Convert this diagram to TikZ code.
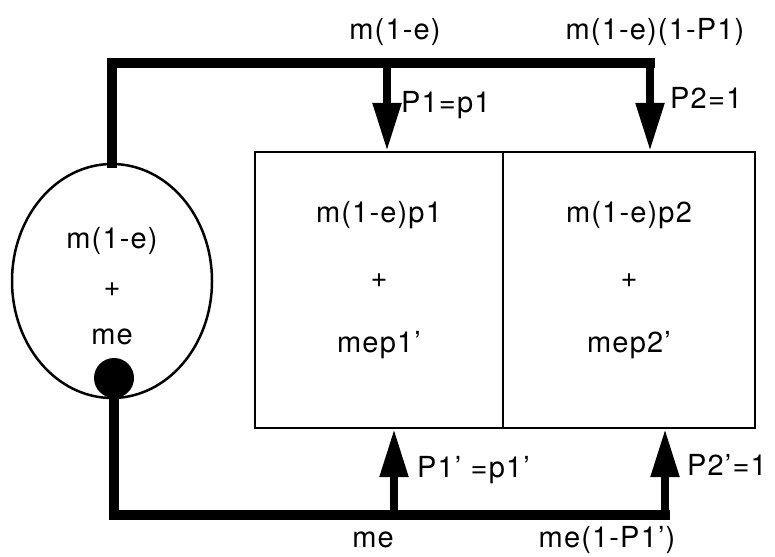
\documentclass[tikz,border=0pt]{standalone}
\usepackage{fontspec}
\setmainfont{TeX Gyre Heros}[LetterSpace=4]
\usetikzlibrary{arrows.meta,positioning,shapes.geometric,calc}

\tikzset{
  pipe/.style={line width=10pt,line cap=rect},
  flow/.style={line width=8pt,-{Triangle[length=48pt,width=27pt]}},
  cell/.style={draw,line width=2pt,minimum height=276pt,inner sep=0pt},
  lbl/.style={font=\fontsize{29}{33}\selectfont,inner sep=0pt},
}

\begin{document}
\begin{tikzpicture}[x=1pt,y=-1pt]
\useasboundingbox (0,0) rectangle (775,556);
\node[ellipse,draw,line width=2.5pt,minimum width=200pt,minimum height=234pt] (pool) at (112,281) {};
\node[align=center,font=\fontsize{29}{48}\selectfont] (poolText) at ([yshift=-5pt]pool.center) {m(1-e)\\+\\me};
\node[circle,fill,minimum size=40pt,inner sep=0pt] (vent) at (114,378) {};
\node[cell,minimum width=248pt] (cellA) at (379,290) {};
\node[cell,minimum width=252pt,right=-2pt of cellA] (cellB) {};
\node[align=center,font=\fontsize{29}{65}\selectfont] (textA) at ([yshift=10pt]cellA.center) {m(1-e)p1\\+\\mep1'};
\node[align=center,font=\fontsize{29}{65}\selectfont] (textB) at ([yshift=10pt]cellB.center) {m(1-e)p2\\+\\mep2'};
\coordinate (splitA) at (387,63);
\coordinate (splitB) at (650,63);
\coordinate (joinA) at (394,515);
\coordinate (joinB) at (665,515);
\draw[pipe] (pool.north) |- (splitB);
\draw[flow] (splitA) -- (splitA |- cellA.north);
\draw[flow] (splitB) -- (splitB |- cellB.north);
\draw[pipe] (vent) |- (joinB);
\draw[flow] (joinA) -- (joinA |- cellA.south);
\draw[flow] (joinB) -- (joinB |- cellB.south);
\node[lbl] (qTop) at (395,32) {m(1-e)};
\node[lbl] (qRest) at (655,32) {m(1-e)(1-P1)};
\node[lbl,anchor=west] (pA) at (401,105) {P1=p1};
\node[lbl,anchor=west] (pB) at (670,98) {P2=1};
\node[lbl,anchor=west] (pAb) at (417,470) {P1' =p1'};
\node[lbl,anchor=west] (pBb) at (687,465) {P2'=1};
\node[lbl] (qLow) at (373,540) {me};
\node[lbl] (qLowRest) at (607,540) {me(1-P1')};
\end{tikzpicture}
\end{document}
